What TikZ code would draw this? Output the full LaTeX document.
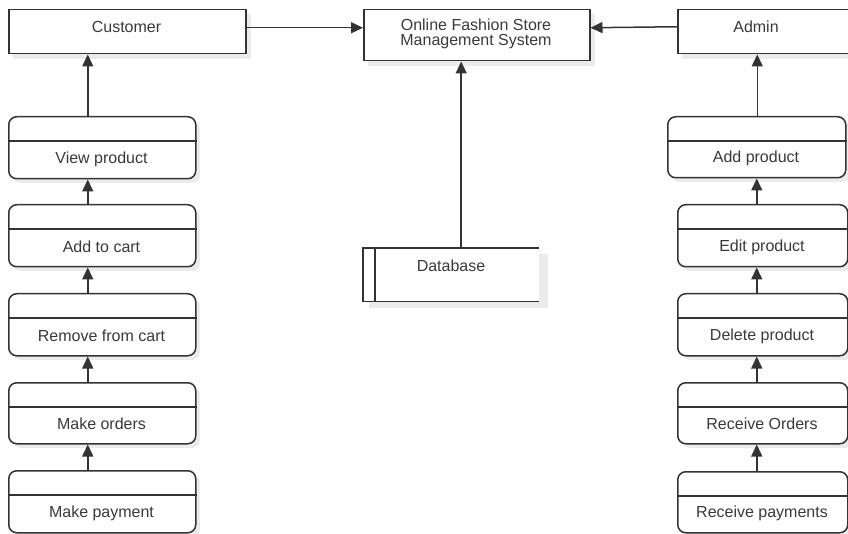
\documentclass[tikz,border=0pt]{standalone}
\usepackage{fontspec}
\setmainfont{Liberation Sans}
\usetikzlibrary{arrows.meta}
\definecolor{lc}{HTML}{333333}
\definecolor{tc}{HTML}{3A3A3A}
\definecolor{shd}{HTML}{EBEBEB}
\tikzset{
  ent/.style={draw=lc, line width=1.5pt, fill=white, inner sep=0pt, anchor=north west},
  procbox/.style={ent, rounded corners=8pt},
  txt/.style={text=tc, font=\fontsize{16}{17.5}\selectfont, inner sep=0pt, align=center},
  conn/.style={draw=lc, line width=1.5pt},
  arr/.style={conn, -{Triangle[length=12pt,width=11pt]}},
  shadow/.style={fill=shd, draw=none}
}
% \pbox{name}{x1}{y1}{x2}{y2}{text}
\newcommand{\pbox}[6]{%
  \fill[shadow, rounded corners=8pt] (#2+5,#3+5) rectangle (#4+5,#5+5);
  \node[procbox, minimum width=#4pt-#2pt, minimum height=#5pt-#3pt] (#1) at (#2,#3) {};
  \draw[conn] ([yshift=-25pt]#1.north west) -- ([yshift=-25pt]#1.north east);
  \node[txt] (#1-t) at ({(#2+#4)/2},{#5-19}) {#6};
}
\begin{document}
\begin{tikzpicture}[x=1pt,y=-1pt]
\useasboundingbox (0,0) rectangle (848,534);
\clip (0,0) rectangle (848,534);
\fill[white] (0,0) rectangle (848,534);

% top entities
\fill[shadow] (13,14) rectangle (251,59);
\node[ent, minimum width=237pt, minimum height=44pt] (cust) at (8,9) {};
\node[txt] (cust-t) at (126.5,27) {Customer};

\fill[shadow] (368,14) rectangle (595,66);
\node[ent, minimum width=226pt, minimum height=51pt] (os) at (363,9) {};
\node[txt] (os-t) at (476,34) {Online Fashion Store\\[-2.5pt]Management System};

\fill[shadow] (682,14) rectangle (870,59);
\node[ent, minimum width=185pt, minimum height=44pt] (adm) at (677,9) {};
\node[txt] (adm-t) at (756,27) {Admin};

% database
\fill[shadow] (369,254) rectangle (548,308);
\node[inner sep=0pt, minimum width=176pt, minimum height=53pt, anchor=north west] (db) at (363,248) {};
\fill[white] (363,248) rectangle (539,301);
\draw[conn] (db.north east) -- (db.north west) -- (db.south west) -- (db.south east);
\draw[conn] ([xshift=12pt]db.north west) -- ([xshift=12pt]db.south west);
\node[txt] (db-t) at (451,266) {Database};

% left processes
\pbox{vp}{8}{116}{195}{178}{View product}
\pbox{ac}{8}{204}{195}{266}{Add to cart}
\pbox{rc}{8}{293}{195}{355}{Remove from cart}
\pbox{mo}{8}{382}{195}{443}{Make orders}
\pbox{mp}{8}{470}{195}{532}{Make payment}

% right processes
\pbox{ap}{667}{116}{845}{177}{Add product}
\pbox{ep}{677}{204}{847}{266}{Edit product}
\pbox{dp}{677}{293}{847}{355}{Delete product}
\pbox{ro}{677}{382}{847}{443}{Receive Orders}
\pbox{rp}{677}{471}{847}{532}{Receive payments}

% connectors
\draw[arr] ([yshift=4pt]cust.east) -- ([yshift=4pt]cust.east -| os.west);
\draw[arr] ([yshift=5pt]adm.west) -- ([yshift=4pt]adm.west -| os.east);
\draw[arr] ([xshift=10pt]db.north) -- ([xshift=10pt]db.north |- os.south);

\draw[arr] ([xshift=-14.5pt]vp.north) -- ([xshift=-14.5pt]vp.north |- cust.south);
\draw[arr] ([xshift=-14.5pt]ac.north) -- ([xshift=-14.5pt]ac.north |- vp.south);
\draw[arr] ([xshift=-14.5pt]rc.north) -- ([xshift=-14.5pt]rc.north |- ac.south);
\draw[arr] ([xshift=-14.5pt]mo.north) -- ([xshift=-14.5pt]mo.north |- rc.south);
\draw[arr] ([xshift=-14.5pt]mp.north) -- ([xshift=-14.5pt]mp.north |- mo.south);

\draw[arr] ([xshift=0.5pt]ap.north) -- ([xshift=0.5pt]ap.north |- adm.south);
\draw[arr] ([xshift=-6pt]ep.north) -- ([xshift=-6pt]ep.north |- ap.south);
\draw[arr] ([xshift=-6pt]dp.north) -- ([xshift=-6pt]dp.north |- ep.south);
\draw[arr] ([xshift=-6pt]ro.north) -- ([xshift=-6pt]ro.north |- dp.south);
\draw[arr] ([xshift=-6pt]rp.north) -- ([xshift=-6pt]rp.north |- ro.south);
\end{tikzpicture}
\end{document}
